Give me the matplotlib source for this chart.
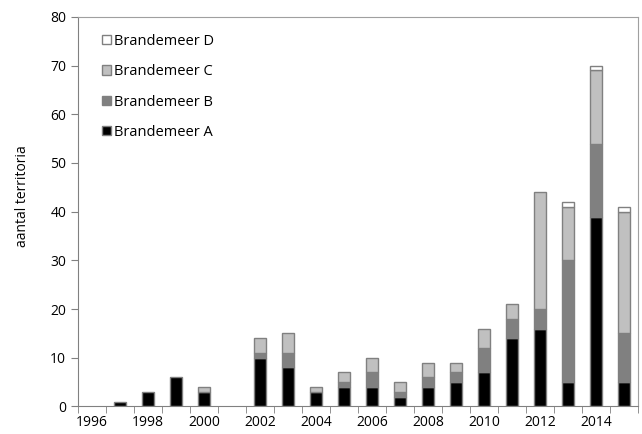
import numpy as np
import matplotlib.pyplot as plt
from matplotlib.patches import Patch

plt.rcParams['font.family'] = ['Open Sans', 'DejaVu Sans']

# Jaren en aantallen territoria per deelgebied
jaren = np.arange(1996, 2016)
brandemeer_a = [0, 1, 3, 6, 3, 0, 10, 8, 3, 4, 4, 2, 4, 5, 7, 14, 16, 5, 39, 5]
brandemeer_b = [0, 0, 0, 0, 0, 0, 1, 3, 0, 1, 3, 1, 2, 2, 5, 4, 4, 25, 15, 10]
brandemeer_c = [0, 0, 0, 0, 1, 0, 3, 4, 1, 2, 3, 2, 3, 2, 4, 3, 24, 11, 15, 25]
brandemeer_d = [0, 0, 0, 0, 0, 0, 0, 0, 0, 0, 0, 0, 0, 0, 0, 0, 0, 1, 1, 1]
x_labels = [str(j) if j % 2 == 0 else '' for j in jaren]

fig = plt.figure(figsize=(6.42, 4.34), dpi=100)
ax = fig.add_axes([0.1215, 0.0635, 0.872, 0.8975])

x = np.arange(len(jaren))
w = 0.42
edge = '#808080'
a = np.array(brandemeer_a)
b = np.array(brandemeer_b)
c = np.array(brandemeer_c)
d = np.array(brandemeer_d)
kleuren = ['black', '#808080', '#c0c0c0', 'white']

# geen randlijn bij lege segmenten
def lw(v):
    return [1 if k > 0 else 0 for k in v]

ax.bar(x, a, w, color=kleuren[0], edgecolor=edge, linewidth=lw(a))
ax.bar(x, b, w, bottom=a, color=kleuren[1], edgecolor=edge, linewidth=lw(b))
ax.bar(x, c, w, bottom=a + b, color=kleuren[2], edgecolor=edge, linewidth=lw(c))
ax.bar(x, d, w, bottom=a + b + c, color=kleuren[3], edgecolor=edge, linewidth=lw(d))

ax.set_xlim(-0.5, len(jaren) - 0.5)
ax.set_ylim(0, 80)
ax.set_yticks(range(0, 81, 10))
ax.set_xticks(x)
ax.set_xticklabels(x_labels)
ax.set_xticks(np.arange(-0.5, len(jaren), 1), minor=True)
ax.tick_params(axis='x', which='major', length=0, pad=6, labelsize=10)
ax.tick_params(axis='x', which='minor', length=5, color=edge, direction='out')
ax.tick_params(axis='y', length=5, color=edge, labelsize=10)

for s in ax.spines.values():
    s.set_color('#a0a0a0')
ax.spines['left'].set_color(edge)
ax.spines['bottom'].set_color(edge)

ax.set_ylabel('aantal territoria', fontsize=10)
ax.yaxis.set_label_coords(-0.086, 0.54)

namen = ['Brandemeer D', 'Brandemeer C', 'Brandemeer B', 'Brandemeer A']
handles = [Patch(facecolor=k, edgecolor=edge, linewidth=1) for k in kleuren[::-1]]
ax.legend(handles, namen,
          loc='upper left', frameon=False, fontsize=10.5, handlelength=0.6, handleheight=0.6,
          handletextpad=0.2, labelspacing=1.05, bbox_to_anchor=(0.02, 0.99))

fig.savefig('out.png', dpi=100)
